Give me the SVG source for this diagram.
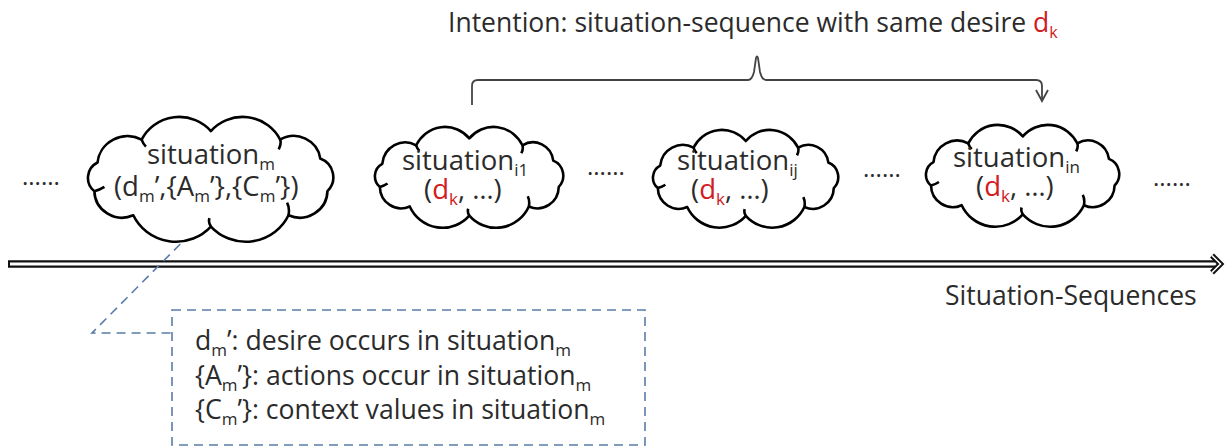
<svg xmlns="http://www.w3.org/2000/svg" width="1225" height="448" viewBox="0 0 1225 448">
<style>
  text { font-family: "Open Sans", "Noto Sans", "DejaVu Sans", sans-serif; fill: #2b2b2b; }
  .cl { font-size: 27.5px; }
  .sub { font-size: 17px; }
  .red { fill: #d0201e; }
  .cloud { fill: #ffffff; stroke: #000000; stroke-width: 2.6; stroke-linejoin: round; vector-effect: non-scaling-stroke; }
  .hook { fill: none; stroke: #000000; stroke-width: 2.6; vector-effect: non-scaling-stroke; }
  .dash { fill: none; stroke: #5a7ca8; stroke-width: 1.6; stroke-dasharray: 9 6; }
  .dots { font-size: 24px; }
  .box { font-size: 26.6px; }
</style>
<defs>
  <g id="cloudShape">
    <path class="cloud" d="M21.1,38.4 A20.9,20.9 0 0 1 51.8,22.1 A29.2,29.2 0 0 1 100,16 A29.2,29.2 0 0 1 148.2,22.1 A18.6,18.6 0 0 1 176.1,35.6 A14.2,14.2 0 0 1 181.1,58.8 A19.3,19.3 0 0 1 154,76 A32.8,32.8 0 0 1 100,84 A32.8,32.8 0 0 1 46,76 A19.3,19.3 0 0 1 18.9,58.8 A12.3,12.3 0 0 1 21.1,38.4 Z"/>
    <path class="hook" d="M18.9,58.8 q4,-1 7,-3 M154,76 q1,-5 -1,-9 M148.2,22.1 q1,3 -1,7 M51.8,22.1 q1,3 3,5 M100,84 q-2,-3 -1,-6"/>
  </g>
</defs>

<g id="title">
  <text x="448" y="32" font-size="26.5">Intention: situation-sequence with same desire <tspan class="red">d</tspan><tspan class="red" dy="6" font-size="16">k</tspan></text>
</g>

<g id="connectors">
  <path d="M472,105 V86 Q472,80 478,80 H748 Q752,80 754,72 L756,58 Q757,55 758,58 L760,72 Q762,80 766,80 H1036 Q1042,80 1042,86 V101" fill="none" stroke="#444" stroke-width="1.8"/>
  <path d="M1036,90 L1042,101 L1048,90" fill="none" stroke="#444" stroke-width="1.8"/>
  <line x1="8" y1="264" x2="1215" y2="264" stroke="#111" stroke-width="7.5"/>
  <line x1="10" y1="264" x2="1216" y2="264" stroke="#fff" stroke-width="3"/>
  <path d="M1212,255.5 L1220.5,264 L1212,272.5" fill="none" stroke="#111" stroke-width="5.5" stroke-linejoin="miter"/>
  <path d="M1212,255.5 L1220.5,264 L1212,272.5" fill="none" stroke="#fff" stroke-width="1.6" stroke-linejoin="miter"/>
  <polyline class="dash" points="212,212 92,333 171,333"/>
</g>

<g id="dots">
  <text class="dots" x="22" y="185">......</text>
  <text class="dots" x="587" y="175">......</text>
  <text class="dots" x="863" y="177">......</text>
  <text class="dots" x="1153" y="186">......</text>
</g>

<g id="situation_m">
  <use href="#cloudShape" transform="translate(67.2,108.6) scale(1.437,1.404)"/>
  <text class="cl" x="147" y="164">situation<tspan class="sub" dy="6">m</tspan></text>
  <text class="cl" x="114" y="196">(d<tspan class="sub" dy="6">m</tspan><tspan dy="-6">’,{A</tspan><tspan class="sub" dy="6">m</tspan><tspan dy="-6">’},{C</tspan><tspan class="sub" dy="6">m</tspan><tspan dy="-6">’})</tspan></text>
</g>

<g id="situation_i1">
  <use href="#cloudShape" transform="translate(359,120.2) scale(1.103,1.135)"/>
  <text class="cl" x="402" y="170">situation<tspan class="sub" dy="6">i1</tspan></text>
  <text class="cl" x="424" y="199">(<tspan class="red">d</tspan><tspan class="red sub" dy="6">k</tspan><tspan dy="-6">, …)</tspan></text>
</g>

<g id="situation_ij">
  <use href="#cloudShape" transform="translate(637.3,123.4) scale(1.085,1.10)"/>
  <text class="cl" x="677" y="170">situation<tspan class="sub" dy="6">ij</tspan></text>
  <text class="cl" x="691" y="199">(<tspan class="red">d</tspan><tspan class="red sub" dy="6">k</tspan><tspan dy="-6">, …)</tspan></text>
</g>

<g id="situation_in">
  <use href="#cloudShape" transform="translate(909.6,118.1) scale(1.132,1.146)"/>
  <text class="cl" x="953" y="167">situation<tspan class="sub" dy="6">in</tspan></text>
  <text class="cl" x="976" y="196">(<tspan class="red">d</tspan><tspan class="red sub" dy="6">k</tspan><tspan dy="-6">, …)</tspan></text>
</g>

<g id="axis_label">
  <text x="945" y="305" font-size="26.5">Situation-Sequences</text>
</g>

<g id="legend">
  <rect class="dash" x="172" y="310" width="473" height="135"/>
  <text class="box" x="195" y="350">d<tspan font-size="17" dy="6">m</tspan><tspan dy="-6">’: desire occurs in situation</tspan><tspan font-size="17" dy="6">m</tspan></text>
  <text class="box" x="195" y="385">{A<tspan font-size="17" dy="6">m</tspan><tspan dy="-6">’}: actions occur in situation</tspan><tspan font-size="17" dy="6">m</tspan></text>
  <text class="box" x="195" y="419">{C<tspan font-size="17" dy="6">m</tspan><tspan dy="-6">’}: context values in situation</tspan><tspan font-size="17" dy="6">m</tspan></text>
</g>
</svg>
